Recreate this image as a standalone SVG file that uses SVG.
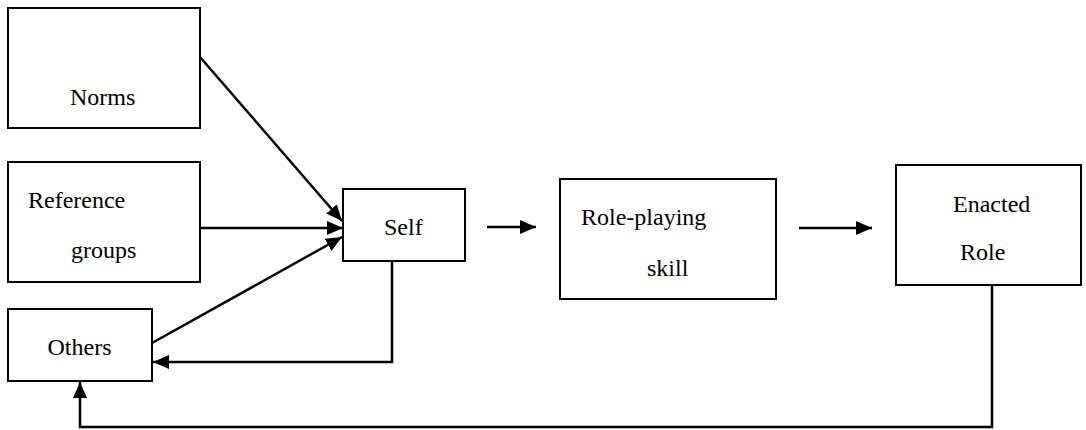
<svg xmlns="http://www.w3.org/2000/svg" width="1086" height="430" viewBox="0 0 1086 430">
<defs>
<style>
.box{fill:#fff;stroke:#000;stroke-width:2}
.t{font-family:'Times New Roman','Liberation Serif',Times,serif;font-size:24px;fill:#000}
.c{fill:none;stroke:#000;stroke-width:2.5}
</style>
<marker id="ah" markerWidth="16" markerHeight="14" refX="16" refY="7" orient="auto" markerUnits="userSpaceOnUse">
<path d="M0,0 L16,7 L0,14 Z" fill="#000"/>
</marker>
</defs>
<rect width="1086" height="430" fill="#fff"/>
<g id="norms"><rect class="box" x="8" y="8" width="192" height="120"/><text class="t" x="70" y="105">Norms</text></g>
<g id="reference"><rect class="box" x="8" y="162" width="192" height="120"/><text class="t" x="28" y="208">Reference</text><text class="t" x="71" y="258">groups</text></g>
<g id="others"><rect class="box" x="8" y="309" width="144" height="72"/><text class="t" x="47.5" y="355">Others</text></g>
<g id="self"><rect class="box" x="343" y="189" width="122" height="72"/><text class="t" x="384" y="235">Self</text></g>
<g id="roleplaying"><rect class="box" x="560" y="179" width="216" height="120"/><text class="t" x="581" y="225">Role-playing</text><text class="t" x="647" y="276">skill</text></g>
<g id="enacted"><rect class="box" x="896" y="165" width="185" height="120"/><text class="t" x="953" y="212">Enacted</text><text class="t" x="960" y="260">Role</text></g>
<g id="connectors">
<line class="c" x1="200" y1="57" x2="342" y2="221" marker-end="url(#ah)"/>
<line class="c" x1="200" y1="228" x2="343" y2="228" marker-end="url(#ah)"/>
<line class="c" x1="152" y1="343" x2="342" y2="237" marker-end="url(#ah)"/>
<polyline class="c" points="392,261 392,362 153,362" marker-end="url(#ah)"/>
<line class="c" x1="487" y1="227" x2="536" y2="227" marker-end="url(#ah)"/>
<line class="c" x1="799" y1="228" x2="872" y2="228" marker-end="url(#ah)"/>
<polyline class="c" points="992,285 992,427 80,427 80,382" marker-end="url(#ah)"/>
</g>
</svg>
